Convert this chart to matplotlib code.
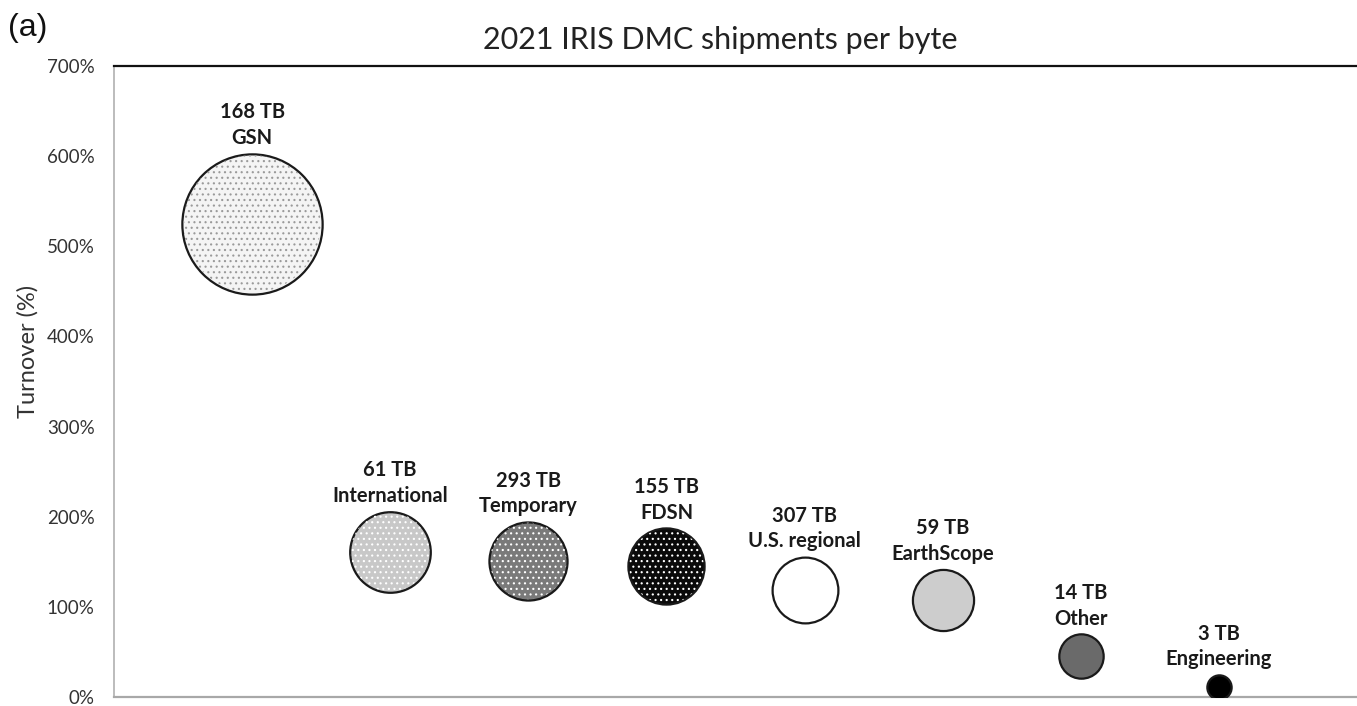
import matplotlib.pyplot as plt
import numpy as np

# data
networks = ["GSN", "International", "Temporary", "FDSN", "U.S. regional",
            "EarthScope", "Other", "Engineering"]
shipped_tb = [168, 61, 293, 155, 307, 59, 14, 3]
turnover = [525, 161, 151, 145, 119, 108, 45, 11]
bubble = [100, 33, 31, 29.5, 22, 19, 10, 3]  # relative bubble area

fills = ["#f4f4f4", "#c8c8c8", "#7a7a7a", "#0a0a0a", "#ffffff", "#cdcdcd", "#6a6a6a", "#000000"]
dot_color = ["#9a9a9a", "#ffffff", "#ffffff", "#ffffff", None, None, None, None]

plt.rcParams['font.family'] = ['Lato', 'DejaVu Sans']

fig = plt.figure(figsize=(13.57, 7.06), dpi=100)
ax = fig.add_axes([0.084, 0.0127, 0.916, 0.8938])

x = np.arange(1, len(networks) + 1)
sizes = np.array(bubble) * 102  # points^2

for i in range(len(networks)):
    ax.scatter(x[i], turnover[i], s=sizes[i], facecolor=fills[i],
               edgecolor="#1a1a1a", linewidth=1.6, zorder=3)
    if dot_color[i] is not None:
        with plt.rc_context({'hatch.color': dot_color[i], 'hatch.linewidth': 0.8}):
            ax.scatter(x[i], turnover[i], s=sizes[i] * 0.96, facecolor="none",
                       edgecolor=dot_color[i], linewidth=0, hatch="...", zorder=4)
    r_pts = np.sqrt(sizes[i]) / 2
    ax.annotate(f"{shipped_tb[i]} TB\n{networks[i]}", (x[i], turnover[i]),
                xytext=(0, r_pts + 4), textcoords="offset points",
                ha="center", va="bottom", fontsize=14.5, fontweight="bold",
                color="#1a1a1a", linespacing=1.35, zorder=5)

ax.set_xlim(0, 9)
ax.set_ylim(0, 700)
ax.set_yticks(range(0, 701, 100))
ax.set_yticklabels([f"{v}%" for v in range(0, 701, 100)], fontsize=13.5, color="#333333")
ax.set_xticks([])
ax.tick_params(axis="y", length=0, pad=14)

ax.spines["top"].set_color("#111111")
ax.spines["top"].set_linewidth(1.6)
ax.spines["right"].set_visible(False)
ax.spines["left"].set_color("#b0b0b0")
ax.spines["left"].set_linewidth(1.2)
ax.spines["bottom"].set_color("#a8a8a8")
ax.spines["bottom"].set_linewidth(1.6)

ax.set_ylabel("Turnover (%)", fontsize=17, color="#333333")
ax.yaxis.set_label_coords(-0.061, 0.547)
fig.text(0.531, 0.943, "2021 IRIS DMC shipments per byte", ha="center", va="center",
         fontsize=22, color="#222222")
fig.text(0.006, 0.96, "(a)", ha="left", va="center", fontsize=23,
         family="Liberation Sans", color="#111111")

fig.savefig("out.png", dpi=100)
